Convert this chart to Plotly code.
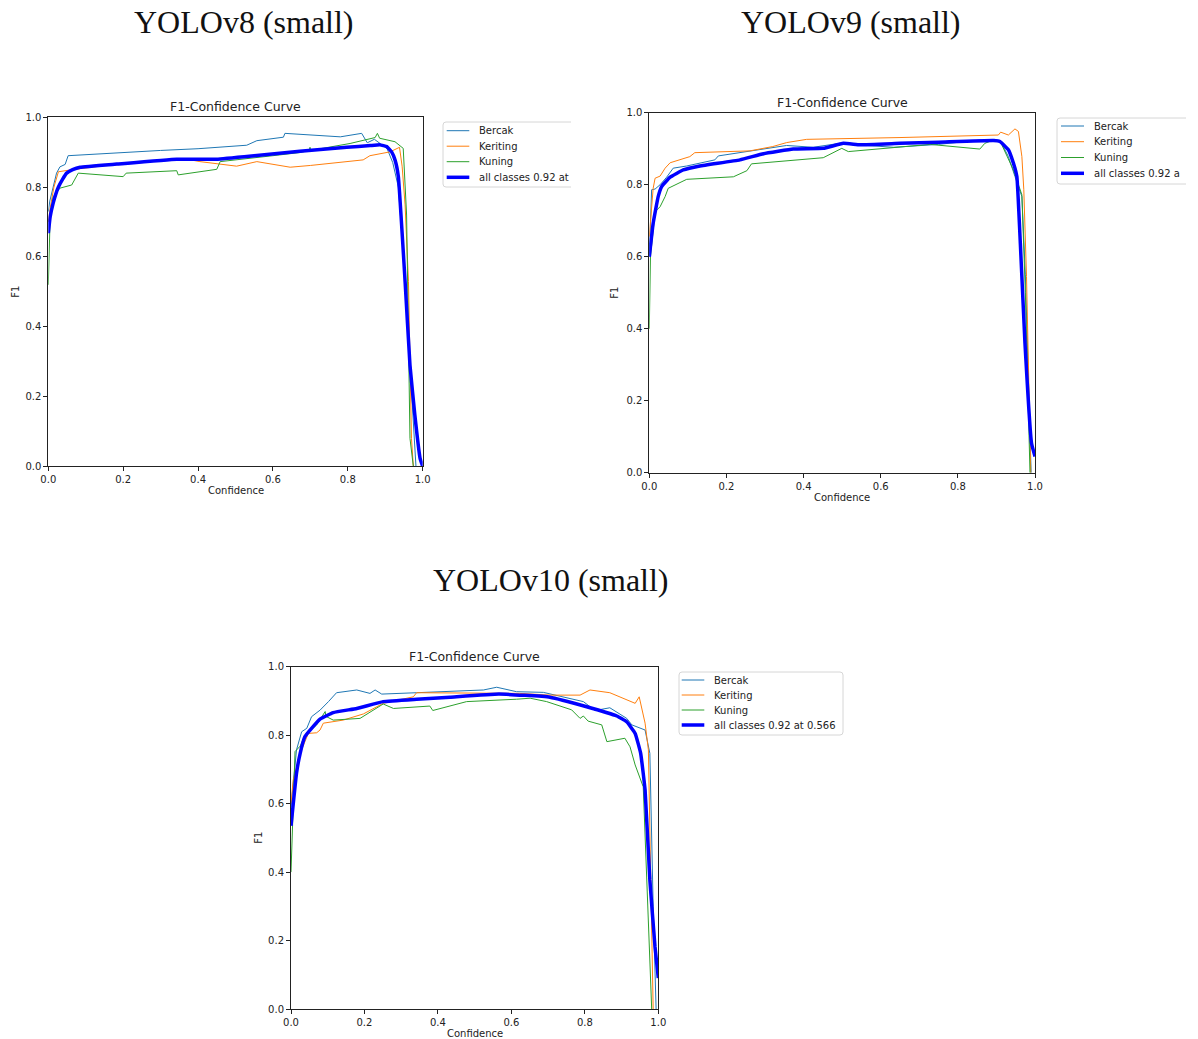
import plotly.graph_objects as go

W, H = 1198, 1039

# ---- YOLOv8 (small) ----
v8_bercak_x = [0.0, 0.004, 0.013, 0.022, 0.031, 0.045, 0.053, 0.10, 0.20, 0.30, 0.40, 0.53, 0.557, 0.628, 0.632,
               0.66, 0.78, 0.837, 0.852, 0.871, 0.885, 0.905, 0.92, 0.935, 0.95, 0.96, 0.97, 0.978, 0.982]
v8_bercak_y = [0.73, 0.76, 0.80, 0.84, 0.858, 0.865, 0.89, 0.893, 0.898, 0.905, 0.91, 0.92, 0.933, 0.943, 0.954,
               0.952, 0.944, 0.954, 0.927, 0.937, 0.925, 0.91, 0.87, 0.80, 0.58, 0.40, 0.20, 0.05, 0.0]
v8_keriting_x = [0.0, 0.005, 0.015, 0.027, 0.058, 0.138, 0.25, 0.36, 0.405, 0.45, 0.503, 0.557, 0.646, 0.70, 0.78,
                 0.841, 0.859, 0.913, 0.938, 0.945, 0.953, 0.962, 0.97, 0.975]
v8_keriting_y = [0.70, 0.74, 0.80, 0.844, 0.849, 0.86, 0.87, 0.882, 0.873, 0.868, 0.86, 0.873, 0.857, 0.862, 0.87,
                 0.878, 0.89, 0.901, 0.914, 0.86, 0.749, 0.529, 0.08, 0.0]
v8_kuning_x = [0.0, 0.002, 0.005, 0.013, 0.031, 0.0625, 0.08, 0.20, 0.208, 0.343, 0.347, 0.45, 0.459, 0.60, 0.672,
               0.697, 0.699, 0.701, 0.806, 0.873, 0.879, 0.885, 0.926, 0.948, 0.957, 0.966, 0.975]
v8_kuning_y = [0.52, 0.65, 0.715, 0.772, 0.797, 0.806, 0.84, 0.83, 0.84, 0.847, 0.835, 0.851, 0.873, 0.89, 0.899,
               0.905, 0.914, 0.905, 0.925, 0.942, 0.954, 0.94, 0.93, 0.911, 0.72, 0.08, 0.0]
v8_all_x = [0.0, 0.005, 0.013, 0.02, 0.027, 0.038, 0.049, 0.065, 0.085, 0.183, 0.343, 0.45, 0.55, 0.672, 0.797,
            0.86, 0.886, 0.904, 0.917, 0.926, 0.935, 0.953, 0.966, 0.979, 0.993, 1.0]
v8_all_y = [0.668, 0.715, 0.754, 0.78, 0.80, 0.822, 0.84, 0.85, 0.857, 0.866, 0.88, 0.88, 0.89, 0.903, 0.914,
            0.919, 0.921, 0.916, 0.901, 0.878, 0.83, 0.529, 0.29, 0.147, 0.023, 0.0]

# ---- YOLOv9 (small) ----
v9_bercak_x = [0.0, 0.006, 0.015, 0.028, 0.045, 0.062, 0.097, 0.17, 0.179, 0.261, 0.356, 0.425, 0.494, 0.55, 0.633,
               0.75, 0.857, 0.879, 0.896, 0.91, 0.931, 0.948, 0.966, 0.975, 0.985, 0.99]
v9_bercak_y = [0.60, 0.786, 0.788, 0.80, 0.821, 0.846, 0.852, 0.869, 0.88, 0.894, 0.909, 0.904, 0.915, 0.91, 0.904,
               0.912, 0.924, 0.92, 0.926, 0.922, 0.878, 0.823, 0.767, 0.55, 0.2, 0.0]
v9_keriting_x = [0.0, 0.01, 0.015, 0.028, 0.041, 0.054, 0.105, 0.118, 0.261, 0.32, 0.356, 0.408, 0.65, 0.905, 0.911,
                 0.931, 0.948, 0.957, 0.966, 0.971, 0.978, 0.987, 0.989]
v9_keriting_y = [0.656, 0.79, 0.818, 0.824, 0.846, 0.861, 0.878, 0.889, 0.894, 0.906, 0.917, 0.926, 0.931, 0.938, 0.946,
                 0.938, 0.955, 0.948, 0.878, 0.786, 0.545, 0.082, 0.0]
v9_kuning_x = [0.0, 0.003, 0.015, 0.028, 0.041, 0.049, 0.097, 0.218, 0.253, 0.265, 0.451, 0.499, 0.516, 0.598, 0.728,
               0.857, 0.87, 0.892, 0.91, 0.944, 0.966, 0.975, 0.987]
v9_kuning_y = [0.40, 0.60, 0.725, 0.739, 0.767, 0.79, 0.815, 0.822, 0.839, 0.858, 0.875, 0.901, 0.892, 0.899, 0.912,
               0.899, 0.915, 0.924, 0.92, 0.841, 0.772, 0.5, 0.0]
v9_all_x = [0.0, 0.01, 0.023, 0.032, 0.054, 0.088, 0.131, 0.235, 0.296, 0.373, 0.451, 0.503, 0.546, 0.65, 0.75,
            0.892, 0.909, 0.931, 0.944, 0.953, 0.962, 0.974, 0.991, 1.0]
v9_all_y = [0.60, 0.693, 0.767, 0.795, 0.821, 0.841, 0.852, 0.869, 0.886, 0.899, 0.901, 0.915, 0.911, 0.915, 0.918,
            0.923, 0.92, 0.897, 0.86, 0.823, 0.637, 0.36, 0.082, 0.045]

# ---- YOLOv10 (small) ----
v10_bercak_x = [0.0, 0.015, 0.029, 0.043, 0.056, 0.079, 0.102, 0.124, 0.179, 0.215, 0.229, 0.247, 0.342, 0.524, 0.56,
                0.614, 0.687, 0.796, 0.828, 0.868, 0.914, 0.928, 0.964, 0.977, 0.986, 0.994]
v10_bercak_y = [0.59, 0.757, 0.81, 0.82, 0.854, 0.873, 0.898, 0.924, 0.932, 0.922, 0.932, 0.92, 0.924, 0.932, 0.94,
                0.927, 0.925, 0.898, 0.872, 0.88, 0.849, 0.83, 0.815, 0.747, 0.3, 0.0]
v10_keriting_x = [0.0, 0.006, 0.025, 0.047, 0.07, 0.079, 0.088, 0.142, 0.197, 0.215, 0.251, 0.333, 0.342, 0.623, 0.705,
                  0.787, 0.814, 0.868, 0.937, 0.948, 0.964, 0.973, 0.98, 0.986]
v10_keriting_y = [0.60, 0.669, 0.747, 0.805, 0.807, 0.815, 0.835, 0.844, 0.862, 0.873, 0.893, 0.912, 0.924, 0.922, 0.917,
                  0.917, 0.932, 0.924, 0.893, 0.912, 0.835, 0.757, 0.35, 0.0]
v10_kuning_x = [0.0, 0.011, 0.025, 0.038, 0.07, 0.093, 0.095, 0.115, 0.188, 0.215, 0.251, 0.279, 0.378, 0.386, 0.478,
                0.614, 0.651, 0.696, 0.764, 0.787, 0.796, 0.809, 0.846, 0.86, 0.909, 0.923, 0.937, 0.959, 0.972, 0.982]
v10_kuning_y = [0.40, 0.752, 0.768, 0.80, 0.83, 0.869, 0.855, 0.844, 0.849, 0.866, 0.891, 0.878, 0.885, 0.872, 0.898,
                0.905, 0.908, 0.898, 0.874, 0.849, 0.856, 0.841, 0.83, 0.781, 0.791, 0.766, 0.713, 0.649, 0.3, 0.0]
v10_all_x = [0.0, 0.015, 0.025, 0.038, 0.056, 0.079, 0.115, 0.179, 0.251, 0.342, 0.433, 0.566, 0.705, 0.805, 0.887,
             0.914, 0.937, 0.952, 0.964, 0.977, 0.991, 1.0]
v10_all_y = [0.535, 0.689, 0.747, 0.796, 0.82, 0.847, 0.866, 0.878, 0.898, 0.905, 0.911, 0.92, 0.911, 0.883, 0.856,
             0.839, 0.805, 0.747, 0.64, 0.377, 0.182, 0.09]

class_names = ["Bercak", "Keriting", "Kuning"]
class_colors = ["#1f77b4", "#ff7f0e", "#2ca02c"]
all_color = "#0000ff"
tick_vals = [0.0, 0.2, 0.4, 0.6, 0.8, 1.0]

panels = [
    dict(title="YOLOv8 (small)", title_xy=(244, 22),
         box=(48.3, 117.3, 422.7, 466.3),
         curves=[(v8_bercak_x, v8_bercak_y), (v8_keriting_x, v8_keriting_y), (v8_kuning_x, v8_kuning_y)],
         all_curve=(v8_all_x, v8_all_y), all_label="all classes 0.92 at",
         legend=dict(left=443, top=122, right=571, bottom=187, cropped=True,
                     line=(446.7, 469.3), text_x=477, rows=[130.7, 146.2, 161.7, 177.3]),
         ylabel_x=16),
    dict(title="YOLOv9 (small)", title_xy=(851, 22),
         box=(649.3, 112.7, 1035.0, 472.8),
         curves=[(v9_bercak_x, v9_bercak_y), (v9_keriting_x, v9_keriting_y), (v9_kuning_x, v9_kuning_y)],
         all_curve=(v9_all_x, v9_all_y), all_label="all classes 0.92 a",
         legend=dict(left=1057, top=118, right=1186, bottom=184, cropped=True,
                     line=(1061, 1084), text_x=1092, rows=[126, 141.7, 157.5, 173.3]),
         ylabel_x=615),
    dict(title="YOLOv10 (small)", title_xy=(551, 580),
         box=(291.0, 666.7, 658.3, 1009.0),
         curves=[(v10_bercak_x, v10_bercak_y), (v10_keriting_x, v10_keriting_y), (v10_kuning_x, v10_kuning_y)],
         all_curve=(v10_all_x, v10_all_y), all_label="all classes 0.92 at 0.566",
         legend=dict(left=679, top=672, right=843, bottom=735, cropped=False,
                     line=(681.7, 704.3), text_x=712, rows=[680, 695, 710, 725]),
         ylabel_x=259),
]


def px(x):
    return x / W


def py(y):
    return 1 - y / H


fig = go.Figure()
shapes = []
annotations = []
text_font = dict(family="DejaVu Sans", size=10, color="#222222")

for i, p in enumerate(panels):
    n = "" if i == 0 else str(i + 1)
    xa, ya = "x" + n, "y" + n
    l, t, r, b = p["box"]

    for (xs, ys), name, color in zip(p["curves"], class_names, class_colors):
        fig.add_trace(go.Scatter(x=xs, y=ys, mode="lines", name=name, showlegend=False,
                                 line=dict(color=color, width=1), xaxis=xa, yaxis=ya))
    ax_x, ax_y = p["all_curve"]
    fig.add_trace(go.Scatter(x=ax_x, y=ax_y, mode="lines", name="all classes", showlegend=False,
                             line=dict(color=all_color, width=3.5, shape="spline", smoothing=0.3),
                             xaxis=xa, yaxis=ya))

    axis_common = dict(range=[0, 1], tickvals=tick_vals, tickformat=".1f", ticks="outside",
                       ticklen=4, tickwidth=1, tickcolor="#222222", showline=True,
                       linecolor="#222222", linewidth=1, mirror=True, showgrid=False,
                       zeroline=False, tickfont=text_font, fixedrange=True, automargin=False)
    fig.update_layout(**{
        "xaxis" + n: dict(domain=[px(l), px(r)], anchor=ya, **axis_common),
        "yaxis" + n: dict(domain=[py(b), py(t)], anchor=xa, **axis_common),
    })

    # panel heading and axes captions
    annotations.append(dict(text=p["title"], x=px(p["title_xy"][0]), y=py(p["title_xy"][1]),
                            xref="paper", yref="paper", showarrow=False, xanchor="center", yanchor="middle",
                            font=dict(family="Liberation Serif", size=32, color="#111111")))
    annotations.append(dict(text="F1-Confidence Curve", x=px((l + r) / 2), y=py(t - 10.5),
                            xref="paper", yref="paper", showarrow=False, xanchor="center", yanchor="middle",
                            font=dict(family="DejaVu Sans", size=12.5, color="#222222")))
    annotations.append(dict(text="Confidence", x=px((l + r) / 2), y=py(b + 24.5),
                            xref="paper", yref="paper", showarrow=False, xanchor="center", yanchor="middle",
                            font=text_font))
    annotations.append(dict(text="F1", x=px(p["ylabel_x"]), y=py((t + b) / 2), textangle=-90,
                            xref="paper", yref="paper", showarrow=False, xanchor="center", yanchor="middle",
                            font=text_font))

    # legend frame and entries
    lg = p["legend"]
    rad = 3
    L, T, R, B = lg["left"], lg["top"], lg["right"], lg["bottom"]
    if lg["cropped"]:
        path = (f"M {px(R)},{py(T)} L {px(L + rad)},{py(T)} Q {px(L)},{py(T)} {px(L)},{py(T + rad)} "
                f"L {px(L)},{py(B - rad)} Q {px(L)},{py(B)} {px(L + rad)},{py(B)} L {px(R)},{py(B)}")
    else:
        path = (f"M {px(R - rad)},{py(T)} L {px(L + rad)},{py(T)} Q {px(L)},{py(T)} {px(L)},{py(T + rad)} "
                f"L {px(L)},{py(B - rad)} Q {px(L)},{py(B)} {px(L + rad)},{py(B)} L {px(R - rad)},{py(B)} "
                f"Q {px(R)},{py(B)} {px(R)},{py(B - rad)} L {px(R)},{py(T + rad)} Q {px(R)},{py(T)} {px(R - rad)},{py(T)}")
    shapes.append(dict(type="path", path=path, xref="paper", yref="paper",
                       line=dict(color="#d6d6d6", width=1)))
    labels = class_names + [p["all_label"]]
    colors = class_colors + [all_color]
    widths = [1, 1, 1, 3.5]
    for yrow, lab, col, wdt in zip(lg["rows"], labels, colors, widths):
        shapes.append(dict(type="line", xref="paper", yref="paper",
                           x0=px(lg["line"][0]), x1=px(lg["line"][1]), y0=py(yrow), y1=py(yrow),
                           line=dict(color=col, width=wdt)))
        annotations.append(dict(text=lab, x=px(lg["text_x"]), y=py(yrow), xref="paper", yref="paper",
                                showarrow=False, xanchor="left", yanchor="middle", font=text_font))

fig.update_layout(width=W, height=H, margin=dict(l=0, r=0, t=0, b=0, autoexpand=False),
                  paper_bgcolor="white", plot_bgcolor="white",
                  shapes=shapes, annotations=annotations, showlegend=False)

fig.write_html("out.html")
